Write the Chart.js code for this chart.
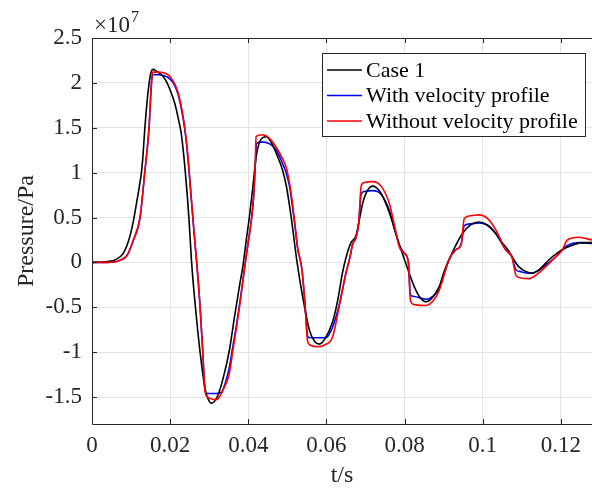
<!DOCTYPE html>
<html>
<head>
<meta charset="utf-8">
<script src="https://cdn.jsdelivr.net/npm/chart.js@4/dist/chart.umd.min.js"></script>
<style>
  body { margin: 0; background: #fff; }
  #wrap { width: 592px; height: 492px; }
</style>
</head>
<body>
<div id="wrap"><canvas id="pressureChart" width="592" height="492"></canvas></div>
<script>
// pressure in units of 1e7 Pa, time in s
const caseT = [0, 0.004, 0.006, 0.008, 0.0095, 0.0105, 0.0114, 0.0121, 0.0127, 0.0131, 0.0135, 0.0144, 0.0152, 0.0157, 0.0165, 0.0178, 0.019, 0.02, 0.0212, 0.0222, 0.0229, 0.0239, 0.0248, 0.0255, 0.0267, 0.028, 0.029, 0.0298, 0.0306, 0.0315, 0.0325, 0.0338, 0.0352, 0.0365, 0.0378, 0.0386, 0.0395, 0.0403, 0.0412, 0.042, 0.043, 0.0446, 0.046, 0.0475, 0.0487, 0.0498, 0.051, 0.0525, 0.054, 0.0557, 0.057, 0.0582, 0.0595, 0.0616, 0.063, 0.0641, 0.065, 0.0663, 0.0676, 0.0693, 0.0705, 0.0719, 0.0735, 0.0752, 0.077, 0.0786, 0.08, 0.0812, 0.0825, 0.0838, 0.0855, 0.087, 0.0889, 0.09, 0.0914, 0.093, 0.0948, 0.097, 0.099, 0.101, 0.1034, 0.105, 0.1068, 0.108, 0.1093, 0.111, 0.1127, 0.1145, 0.117, 0.119, 0.1212, 0.1235, 0.1255, 0.128];
const caseP = [0, 0.01, 0.03, 0.1, 0.26, 0.44, 0.66, 0.84, 1.02, 1.22, 1.48, 1.92, 2.13, 2.15, 2.13, 2.09, 2.02, 1.92, 1.77, 1.58, 1.42, 1.0, 0.5, 0.0, -0.6, -1.12, -1.42, -1.53, -1.57, -1.54, -1.45, -1.25, -0.97, -0.6, -0.25, -0.05, 0.25, 0.51, 0.85, 1.17, 1.35, 1.4, 1.33, 1.18, 1.04, 0.84, 0.5, 0.0, -0.4, -0.76, -0.88, -0.91, -0.86, -0.66, -0.4, -0.12, 0.05, 0.22, 0.3, 0.66, 0.8, 0.85, 0.8, 0.66, 0.44, 0.21, 0.03, -0.12, -0.27, -0.38, -0.44, -0.4, -0.27, -0.12, 0.03, 0.18, 0.32, 0.42, 0.45, 0.42, 0.32, 0.22, 0.12, 0.03, -0.05, -0.1, -0.12, -0.08, 0.03, 0.1, 0.16, 0.2, 0.22, 0.22];

const withT = [0, 0.004, 0.007, 0.009, 0.0106, 0.0123, 0.0135, 0.0146, 0.0152, 0.0155, 0.017, 0.0185, 0.0195, 0.0208, 0.022, 0.0228, 0.0236, 0.0243, 0.025, 0.026, 0.0269, 0.0276, 0.0283, 0.0289, 0.0294, 0.0318, 0.0331, 0.034, 0.0352, 0.036, 0.0369, 0.038, 0.039, 0.0399, 0.0408, 0.0414, 0.0418, 0.0421, 0.043, 0.044, 0.0455, 0.0472, 0.0486, 0.0497, 0.0505, 0.0512, 0.0519, 0.0527, 0.0533, 0.0538, 0.0545, 0.0552, 0.0558, 0.0599, 0.0616, 0.0633, 0.065, 0.066, 0.0667, 0.0676, 0.0683, 0.0689, 0.0697, 0.0718, 0.074, 0.0761, 0.0775, 0.0787, 0.0795, 0.08, 0.081, 0.0815, 0.0825, 0.0855, 0.0875, 0.0889, 0.0914, 0.0931, 0.0945, 0.0953, 0.097, 0.0991, 0.1015, 0.1034, 0.1059, 0.1075, 0.1085, 0.1095, 0.1119, 0.114, 0.1161, 0.1187, 0.1204, 0.1217, 0.1246, 0.128];
const withP = [0, 0, 0.02, 0.08, 0.25, 0.5, 1.0, 1.5, 1.97, 2.09, 2.09, 2.08, 2.06, 2.0, 1.88, 1.73, 1.53, 1.28, 0.93, 0.4, -0.05, -0.45, -0.95, -1.41, -1.46, -1.46, -1.45, -1.36, -1.16, -0.95, -0.72, -0.4, -0.08, 0.2, 0.47, 0.75, 1.08, 1.32, 1.34, 1.34, 1.32, 1.25, 1.12, 1.0, 0.86, 0.66, 0.42, 0.14, 0.03, -0.1, -0.45, -0.82, -0.84, -0.84, -0.72, -0.47, -0.12, 0.05, 0.2, 0.28, 0.45, 0.76, 0.79, 0.8, 0.76, 0.58, 0.36, 0.19, 0.13, 0.1, 0.0, -0.36, -0.38, -0.41, -0.37, -0.28, 0.03, 0.14, 0.2, 0.41, 0.43, 0.44, 0.41, 0.32, 0.14, 0.06, -0.08, -0.1, -0.12, -0.1, -0.03, 0.06, 0.14, 0.19, 0.22, 0.21];

const withoutT = [0, 0.004, 0.007, 0.009, 0.0106, 0.0123, 0.0135, 0.0146, 0.0152, 0.0155, 0.017, 0.0185, 0.0195, 0.0208, 0.022, 0.0228, 0.0236, 0.0243, 0.025, 0.026, 0.0269, 0.0276, 0.0283, 0.0289, 0.0294, 0.0305, 0.0318, 0.033, 0.034, 0.0352, 0.036, 0.0369, 0.038, 0.039, 0.0399, 0.0408, 0.0414, 0.0418, 0.042, 0.043, 0.044, 0.0455, 0.0472, 0.0486, 0.0497, 0.0505, 0.0512, 0.0519, 0.0527, 0.0533, 0.0538, 0.0545, 0.0552, 0.0558, 0.0578, 0.0595, 0.0616, 0.0633, 0.065, 0.066, 0.0667, 0.0676, 0.0683, 0.0689, 0.0697, 0.0718, 0.074, 0.0761, 0.0775, 0.0787, 0.0795, 0.08, 0.081, 0.0815, 0.0825, 0.0855, 0.0875, 0.0889, 0.0914, 0.0931, 0.0945, 0.0953, 0.097, 0.0991, 0.1015, 0.1034, 0.1059, 0.1075, 0.1085, 0.1095, 0.1119, 0.114, 0.1161, 0.1187, 0.1204, 0.1217, 0.1246, 0.128];
const withoutP = [0, 0, 0.02, 0.08, 0.25, 0.5, 1.0, 1.5, 2.0, 2.12, 2.12, 2.11, 2.09, 2.02, 1.9, 1.75, 1.55, 1.3, 0.95, 0.4, -0.05, -0.45, -0.95, -1.42, -1.49, -1.52, -1.53, -1.47, -1.38, -1.23, -1.0, -0.75, -0.42, -0.08, 0.2, 0.47, 0.75, 1.1, 1.4, 1.42, 1.42, 1.38, 1.28, 1.17, 1.06, 0.9, 0.7, 0.45, 0.15, 0.03, -0.1, -0.45, -0.88, -0.92, -0.94, -0.92, -0.83, -0.49, -0.12, 0.05, 0.2, 0.28, 0.45, 0.85, 0.89, 0.9, 0.85, 0.66, 0.4, 0.17, 0.12, 0.1, 0.0, -0.42, -0.47, -0.48, -0.42, -0.31, 0.03, 0.14, 0.2, 0.49, 0.52, 0.53, 0.48, 0.36, 0.14, 0.06, -0.14, -0.17, -0.18, -0.13, -0.05, 0.06, 0.14, 0.25, 0.28, 0.25];

const seriesNames = ['Case 1', 'With velocity profile', 'Without velocity profile'];
const seriesColors = ['#000000', '#0000ff', '#ff0000'];

const xTicks = [0, 0.02, 0.04, 0.06, 0.08, 0.1, 0.12];
const yTicks = [-1.5, -1, -0.5, 0, 0.5, 1, 1.5, 2, 2.5];

const serif = "'Liberation Serif', 'Times New Roman', serif";
const textColor = '#262626';

function pairs(xs, ys) {
    return xs.map((x, i) => ({ x: x, y: ys[i] }));
}

// axes box, inward ticks, exponent label and legend box like the MATLAB figure
const matlabFrame = {
    id: 'matlabFrame',
    afterDraw(chart) {
        const ctx = chart.ctx;
        const a = chart.chartArea;
        const xs = chart.scales.x, ys = chart.scales.y;
        ctx.save();
        ctx.strokeStyle = textColor;
        ctx.lineWidth = 1;
        ctx.beginPath();
        ctx.moveTo(a.left + 0.5, a.top + 0.5);
        ctx.lineTo(a.left + 0.5, a.bottom + 0.5);
        ctx.lineTo(a.right, a.bottom + 0.5);
        ctx.moveTo(a.left + 0.5, a.top + 0.5);
        ctx.lineTo(a.right, a.top + 0.5);
        xTicks.forEach(v => {
            const px = Math.round(xs.getPixelForValue(v)) + 0.5;
            ctx.moveTo(px, a.bottom);
            ctx.lineTo(px, a.bottom - 5);
            ctx.moveTo(px, a.top);
            ctx.lineTo(px, a.top + 5);
        });
        yTicks.forEach(v => {
            const py = Math.round(ys.getPixelForValue(v)) + 0.5;
            ctx.moveTo(a.left, py);
            ctx.lineTo(a.left + 5, py);
        });
        ctx.stroke();

        // x10^7 exponent
        ctx.fillStyle = textColor;
        ctx.textBaseline = 'alphabetic';
        ctx.textAlign = 'left';
        ctx.font = '23px ' + serif;
        ctx.fillText('\u00d710', a.left + 2, a.top - 6);
        const w = ctx.measureText('\u00d710').width;
        ctx.font = '16px ' + serif;
        ctx.fillText('7', a.left + 3 + w, a.top - 16);

        // legend
        const bx = 322, by = 53, bw = 263, bh = 83;
        ctx.fillStyle = '#ffffff';
        ctx.fillRect(bx, by, bw, bh);
        ctx.strokeStyle = '#262626';
        ctx.strokeRect(bx + 0.5, by + 0.5, bw, bh);
        ctx.font = '22px ' + serif;
        ctx.textBaseline = 'middle';
        const rows = [70, 95.5, 121];
        chart.data.datasets.forEach((ds, i) => {
            ctx.strokeStyle = ds.borderColor;
            ctx.lineWidth = 1.5;
            ctx.beginPath();
            ctx.moveTo(327, rows[i]);
            ctx.lineTo(362, rows[i]);
            ctx.stroke();
            ctx.fillStyle = '#000';
            ctx.fillText(ds.label, 366, rows[i] + 1);
        });
        ctx.restore();
    }
};

const ctxP = document.getElementById('pressureChart').getContext('2d');
new Chart(ctxP, {
    type: 'line',
    data: {
        datasets: [
            { label: seriesNames[0], data: pairs(caseT, caseP), borderColor: seriesColors[0], order: 2 },
            { label: seriesNames[1], data: pairs(withT, withP), borderColor: seriesColors[1], order: 3 },
            { label: seriesNames[2], data: pairs(withoutT, withoutP), borderColor: seriesColors[2], order: 1 }
        ]
    },
    options: {
        responsive: false,
        animation: false,
        events: [],
        layout: { padding: { top: 38, right: 0, left: 0, bottom: 0 } },
        elements: {
            point: { radius: 0 },
            line: { borderWidth: 1.6, cubicInterpolationMode: 'monotone', fill: false }
        },
        plugins: { legend: { display: false }, tooltip: { enabled: false } },
        scales: {
            x: {
                type: 'linear',
                min: 0,
                max: 0.128,
                afterFit: s => { s.height = 68; },
                afterBuildTicks: s => { s.ticks = xTicks.map(v => ({ value: v })); },
                grid: { color: '#e3e3e3', drawTicks: false },
                border: { display: false },
                ticks: {
                    padding: 8,
                    color: textColor,
                    font: { family: serif, size: 23 },
                    callback: v => String(Number(v.toFixed(2)))
                },
                title: { display: true, text: 't/s', color: textColor, font: { family: serif, size: 24 }, padding: { top: 0, bottom: 2 } }
            },
            y: {
                type: 'linear',
                min: -1.8,
                max: 2.5,
                afterFit: s => { s.width = 92; },
                afterBuildTicks: s => { s.ticks = yTicks.map(v => ({ value: v })); },
                grid: { color: '#e3e3e3', drawTicks: false },
                border: { display: false },
                ticks: {
                    padding: 10,
                    color: textColor,
                    font: { family: serif, size: 23 },
                    callback: v => String(Number(v.toFixed(1)))
                },
                title: { display: true, text: 'Pressure/Pa', color: textColor, font: { family: serif, size: 24 }, padding: { top: 12, bottom: 0 } }
            }
        }
    },
    plugins: [matlabFrame]
});
</script>
</body>
</html>
